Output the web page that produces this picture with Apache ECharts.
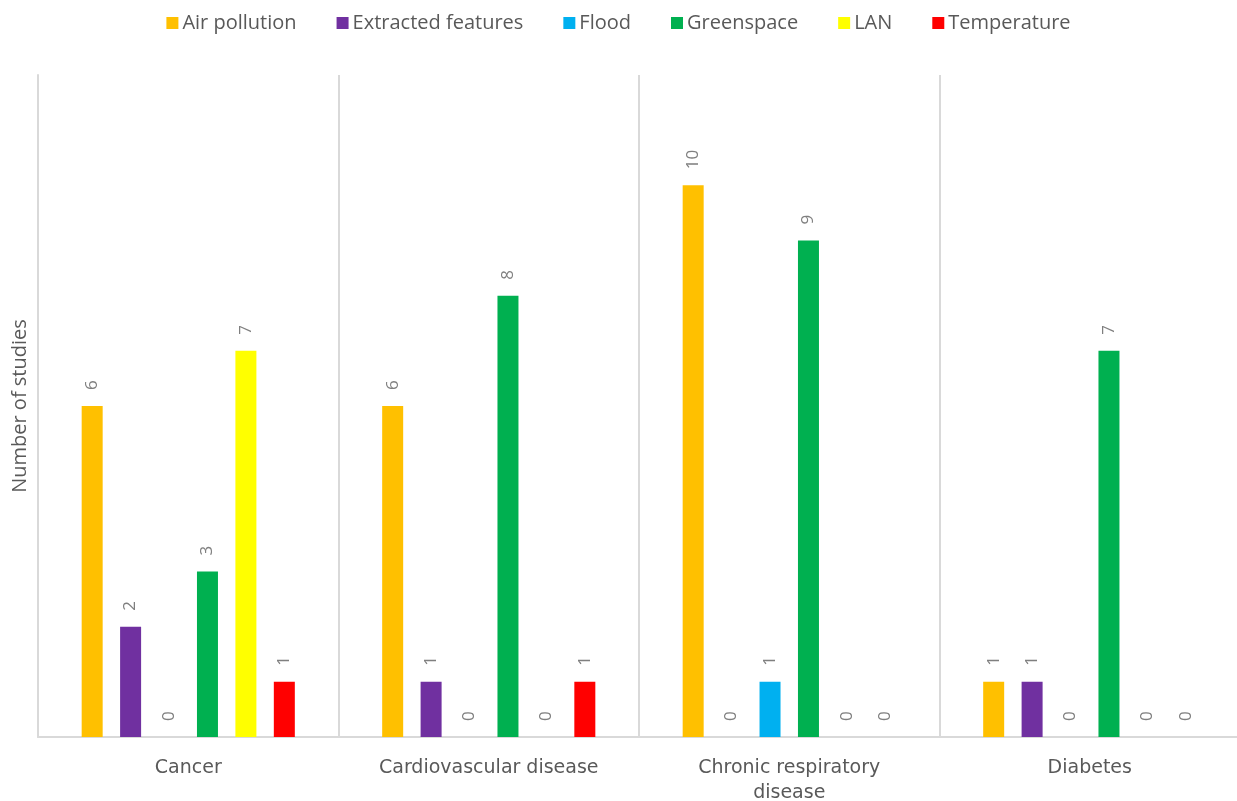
<!DOCTYPE html>
<html>
<head>
<meta charset="utf-8">
<script src="https://cdn.jsdelivr.net/npm/echarts@6/dist/echarts.min.js"></script>
<style>html,body{margin:0;padding:0;background:#fff}#c{width:1237px;height:801px}</style>
</head>
<body>
<div id="c"></div>
<script>
const categories = ['Cancer', 'Cardiovascular disease', 'Chronic respiratory disease', 'Diabetes'];
const seriesNames = ['Air pollution', 'Extracted features', 'Flood', 'Greenspace', 'LAN', 'Temperature'];
const airPollution = [6, 6, 10, 1];
const extractedFeatures = [2, 1, 0, 1];
const flood = [0, 0, 1, 0];
const greenspace = [3, 8, 9, 7];
const lan = [7, 0, 0, 0];
const temperature = [1, 1, 0, 0];
const colors = ['#FFC000', '#7030A0', '#00B0F0', '#00B050', '#FFFF00', '#FF0000'];
const values = [airPollution, extractedFeatures, flood, greenspace, lan, temperature];

const chart = echarts.init(document.getElementById('c'));
const textColor = '#595959';
const font = 'Open Sans, Noto Sans, sans-serif';
chart.setOption({
  animation: false,
  textStyle: { fontFamily: font },
  legend: {
    top: 8, left: 'center',
    itemWidth: 12, itemHeight: 12, itemGap: 40,
    icon: 'rect',
    textStyle: { color: textColor, fontSize: 20, fontFamily: font, padding: [0, 0, 0, -1] },
    data: seriesNames
  },
  grid: { left: 38, top: 75, width: 1202, height: 662, containLabel: false, outerBoundsMode: 'none' },
  xAxis: {
    type: 'category', data: categories,
    axisLine: { show: true, lineStyle: { color: '#d9d9d9', width: 2 } },
    axisTick: { show: false },
    splitLine: { show: true, lineStyle: { color: '#d9d9d9', width: 2 } },
    axisLabel: {
      color: textColor, fontSize: 19, margin: 19, fontFamily: 'DejaVu Sans, sans-serif', lineHeight: 25,
      formatter: v => v === 'Chronic respiratory disease' ? 'Chronic respiratory\ndisease' : v
    }
  },
  yAxis: {
    type: 'value', min: 0, max: 12,
    name: 'Number of studies', nameLocation: 'middle', nameGap: 8,
    nameTextStyle: { color: textColor, fontSize: 20, fontFamily: font },
    axisLine: { show: true, lineStyle: { color: '#d9d9d9', width: 2 } },
    axisLabel: { show: false }, axisTick: { show: false }, splitLine: { show: false }
  },
  series: seriesNames.map((n, i) => ({
    name: n, type: 'bar', data: values[i],
    barWidth: 21, barGap: '83%',
    itemStyle: { color: colors[i] },
    label: {
      show: true, position: 'top', rotate: 90, align: 'left', verticalAlign: 'middle',
      distance: 16, color: '#7f7f7f', fontSize: 17, fontFamily: font
    }
  }))
});
</script>
</body>
</html>
